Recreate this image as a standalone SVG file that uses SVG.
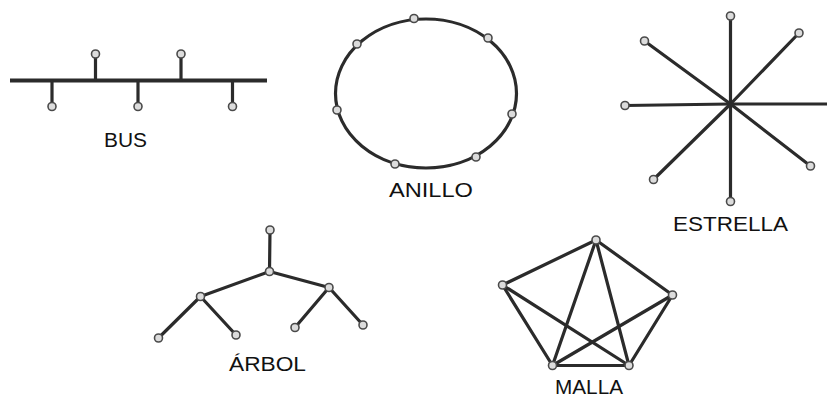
<svg xmlns="http://www.w3.org/2000/svg" width="827" height="398" viewBox="0 0 827 398">
<style>
.ln{stroke:#2b2b2b;stroke-width:3.2;fill:none;stroke-linecap:round}
.nd{fill:#dcdcdc;stroke:#4a4a4a;stroke-width:1.6}
.lb{font-family:"Liberation Sans",Arial,sans-serif;font-size:20px;fill:#111}
</style>
<rect width="827" height="398" fill="#fff"/>
<g id="connectors">
<line class="ln" x1="10" y1="80.5" x2="267" y2="80.5" style="stroke-width:4;stroke-linecap:butt"/>
<line class="ln" x1="95.5" y1="80" x2="95.5" y2="54"/>
<line class="ln" x1="181" y1="80" x2="181" y2="54"/>
<line class="ln" x1="52" y1="81" x2="52" y2="106"/>
<line class="ln" x1="138" y1="81" x2="138" y2="106"/>
<line class="ln" x1="232.5" y1="81" x2="232.5" y2="106"/>
<ellipse class="ln" cx="426" cy="93.5" rx="90.5" ry="74.5"/>
<g class="star">
<line class="ln" x1="730.5" y1="104" x2="730.5" y2="16"/>
<line class="ln" x1="730.5" y1="104" x2="730.5" y2="201"/>
<line class="ln" x1="730.5" y1="104" x2="625" y2="105.5"/>
<line class="ln" x1="730.5" y1="104" x2="827" y2="104" style="stroke-linecap:butt"/>
<line class="ln" x1="730.5" y1="104" x2="644.5" y2="41"/>
<line class="ln" x1="730.5" y1="104" x2="799" y2="33"/>
<line class="ln" x1="730.5" y1="104" x2="653.5" y2="179.5"/>
<line class="ln" x1="730.5" y1="104" x2="810.5" y2="166"/>
</g>
<line class="ln" x1="270" y1="230" x2="269.5" y2="271.5"/>
<line class="ln" x1="269.5" y1="271.5" x2="200.5" y2="296.5"/>
<line class="ln" x1="269.5" y1="271.5" x2="329" y2="287.5"/>
<line class="ln" x1="200.5" y1="296.5" x2="158.5" y2="338"/>
<line class="ln" x1="200.5" y1="296.5" x2="236" y2="335"/>
<line class="ln" x1="329" y1="287.5" x2="295" y2="327.5"/>
<line class="ln" x1="329" y1="287.5" x2="363" y2="325"/>
<g class="mesh">
<line class="ln" x1="596" y1="240" x2="502.5" y2="285"/>
<line class="ln" x1="596" y1="240" x2="672.5" y2="295"/>
<line class="ln" x1="596" y1="240" x2="552.5" y2="365.5"/>
<line class="ln" x1="596" y1="240" x2="629" y2="365.5"/>
<line class="ln" x1="502.5" y1="285" x2="552.5" y2="365.5"/>
<line class="ln" x1="502.5" y1="285" x2="629" y2="365.5"/>
<line class="ln" x1="672.5" y1="295" x2="552.5" y2="365.5"/>
<line class="ln" x1="672.5" y1="295" x2="629" y2="365.5"/>
<line class="ln" x1="552.5" y1="365.5" x2="629" y2="365.5"/>
</g>
</g>
<g id="bus">
<circle class="nd" cx="95.5" cy="54" r="4"/>
<circle class="nd" cx="181" cy="54" r="4"/>
<circle class="nd" cx="52" cy="106.5" r="4"/>
<circle class="nd" cx="138" cy="106.5" r="4"/>
<circle class="nd" cx="232.5" cy="106.5" r="4"/>
<text class="lb" x="104" y="147" textLength="43" lengthAdjust="spacingAndGlyphs">BUS</text>
</g>
<g id="anillo">
<circle class="nd" cx="414" cy="18.5" r="4"/>
<circle class="nd" cx="357" cy="44" r="4"/>
<circle class="nd" cx="488" cy="38" r="4"/>
<circle class="nd" cx="337" cy="110" r="4"/>
<circle class="nd" cx="512" cy="114" r="4"/>
<circle class="nd" cx="395" cy="164" r="4"/>
<circle class="nd" cx="476" cy="157" r="4"/>
<text class="lb" x="389" y="197" textLength="84" lengthAdjust="spacingAndGlyphs">ANILLO</text>
</g>
<g id="estrella">
<circle class="nd" cx="730.5" cy="16" r="4"/>
<circle class="nd" cx="730.5" cy="201.5" r="4"/>
<circle class="nd" cx="625" cy="105.5" r="4"/>
<circle class="nd" cx="644.5" cy="41" r="4"/>
<circle class="nd" cx="799" cy="33" r="4"/>
<circle class="nd" cx="653.5" cy="179.5" r="4"/>
<circle class="nd" cx="810.5" cy="166" r="4"/>
<text class="lb" x="673" y="231" textLength="115" lengthAdjust="spacingAndGlyphs">ESTRELLA</text>
</g>
<g id="arbol">
<circle class="nd" cx="270" cy="230" r="4"/>
<circle class="nd" cx="269.5" cy="271.5" r="4"/>
<circle class="nd" cx="200.5" cy="296.5" r="4"/>
<circle class="nd" cx="329" cy="287.5" r="4"/>
<circle class="nd" cx="158.5" cy="338" r="4"/>
<circle class="nd" cx="236" cy="335" r="4"/>
<circle class="nd" cx="295" cy="327.5" r="4"/>
<circle class="nd" cx="363" cy="325" r="4"/>
<text class="lb" x="229" y="371" textLength="77" lengthAdjust="spacingAndGlyphs">ÁRBOL</text>
</g>
<g id="malla">
<circle class="nd" cx="596" cy="240" r="4"/>
<circle class="nd" cx="502.5" cy="285" r="4"/>
<circle class="nd" cx="672.5" cy="295" r="4"/>
<circle class="nd" cx="552.5" cy="365.5" r="4"/>
<circle class="nd" cx="629" cy="365.5" r="4"/>
<text class="lb" x="555" y="394" textLength="68" lengthAdjust="spacingAndGlyphs">MALLA</text>
</g>
</svg>
